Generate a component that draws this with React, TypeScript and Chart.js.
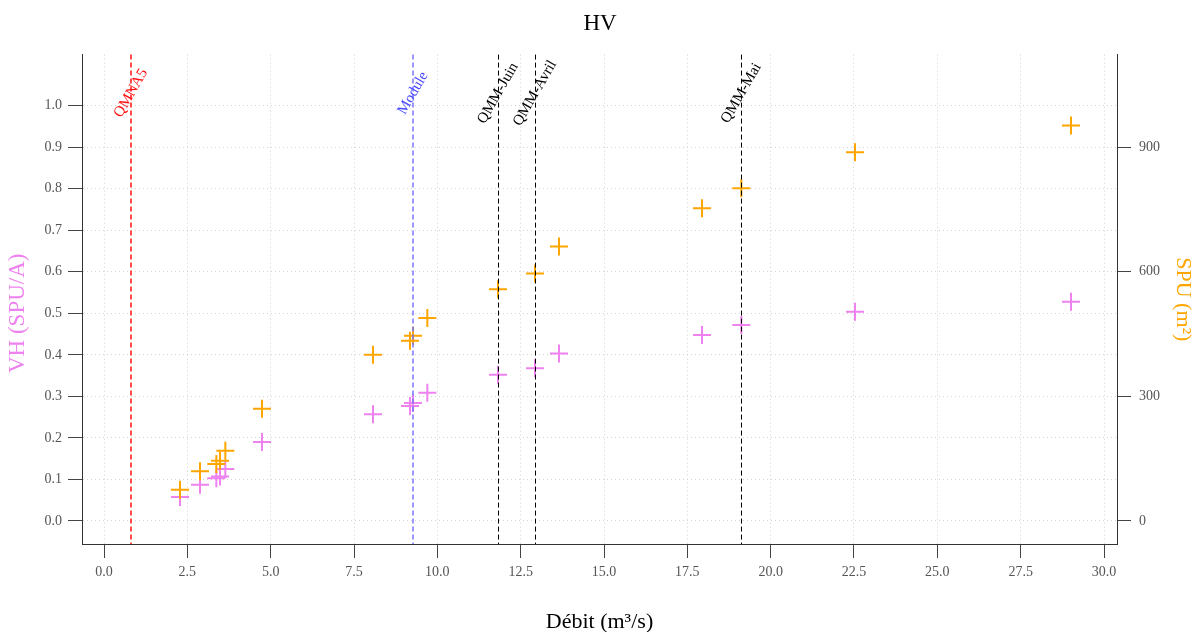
import React, { useEffect, useRef } from "react";
import { Chart, registerables } from "chart.js";

Chart.register(...registerables);

// Débit (m³/s) of each sample
const debit = [2.28, 2.88, 3.37, 3.48, 3.64, 4.74, 8.07, 9.18, 9.27, 9.7, 11.82, 12.93, 13.65, 17.94, 19.12, 22.53, 29.01];
// SPU (m²) – right axis
const spu = [75, 120, 137, 145, 169, 270, 400, 434, 446, 489, 558, 596, 661, 753, 801, 888, 952];
// VH (SPU/A) – left axis
const vh = [0.058, 0.087, 0.103, 0.107, 0.125, 0.19, 0.257, 0.277, 0.284, 0.309, 0.352, 0.368, 0.403, 0.448, 0.472, 0.504, 0.528];

const xTicks = [0, 2.5, 5, 7.5, 10, 12.5, 15, 17.5, 20, 22.5, 25, 27.5, 30];
const vhTicks = [0, 0.1, 0.2, 0.3, 0.4, 0.5, 0.6, 0.7, 0.8, 0.9, 1.0];
const spuTicks = [0, 300, 600, 900];

// Reference discharges
const refNames = ["QMNA5", "Module", "QMM-Juin", "QMM-Avril", "QMM-Mai"];
const refValues = [0.81, 9.27, 11.82, 12.93, 19.12];
const refLineColors = ["#FF0000", "#6E6EFF", "#000000", "#000000", "#000000"];
const refTextColors = ["#FF1010", "#4A4AFF", "#000000", "#000000", "#000000"];

const leftTitle = "VH (SPU/A)";

const FONT = "'Liberation Serif', 'Times New Roman', serif";

const refPlugin = {
  id: "refLines",
  afterDatasetsDraw(chart: any) {
    const { ctx, chartArea, scales } = chart;
    ctx.save();
    refValues.forEach((v, i) => {
      const colored = refLineColors[i] !== "#000000";
      const px = scales.x.getPixelForValue(v);
      const x = colored ? px : Math.round(px) + 0.5;
      ctx.beginPath();
      ctx.setLineDash([5, 3]);
      ctx.strokeStyle = refLineColors[i];
      ctx.lineWidth = colored ? 1.4 : 1;
      ctx.moveTo(x, chartArea.top);
      ctx.lineTo(x, chartArea.bottom);
      ctx.stroke();
      ctx.setLineDash([]);
      ctx.save();
      ctx.translate(px, scales.y.getPixelForValue(1.03));
      ctx.rotate(-Math.PI / 3);
      ctx.font = `15px ${FONT}`;
      ctx.fillStyle = refTextColors[i];
      ctx.textAlign = "center";
      ctx.textBaseline = "middle";
      ctx.fillText(refNames[i], 0, 0);
      ctx.restore();
    });
    // left axis title
    ctx.save();
    ctx.translate(18, (chartArea.top + chartArea.bottom) / 2 + 14);
    ctx.rotate(-Math.PI / 2);
    ctx.font = `23px ${FONT}`;
    ctx.fillStyle = "#EE82EE";
    ctx.textAlign = "center";
    ctx.textBaseline = "middle";
    ctx.fillText(leftTitle, 0, 0);
    ctx.restore();
    ctx.restore();
  },
};

export default function App() {
  const canvasRef = useRef<HTMLCanvasElement | null>(null);

  useEffect(() => {
    document.body.style.margin = "0";
    Chart.defaults.font.family = FONT;
    const canvas = canvasRef.current;
    if (!canvas) return;
    const gridColor = "#d2d2d2";
    const chart = new Chart(canvas, {
      type: "scatter",
      data: {
        datasets: [
          {
            label: "SPU",
            data: debit.map((d, i) => ({ x: d, y: spu[i] })),
            yAxisID: "y1",
            pointStyle: "cross",
            radius: 9,
            borderWidth: 2,
            borderColor: "#FFA500",
            backgroundColor: "#FFA500",
          },
          {
            label: "VH",
            data: debit.map((d, i) => ({ x: d, y: vh[i] })),
            yAxisID: "y",
            pointStyle: "cross",
            radius: 9,
            borderWidth: 2,
            borderColor: "#EE82EE",
            backgroundColor: "#EE82EE",
          },
        ],
      },
      options: {
        responsive: false,
        animation: false,
        devicePixelRatio: 1,
        layout: { padding: 0 },
        plugins: {
          legend: { display: false },
          tooltip: { enabled: false },
          title: {
            display: true,
            text: "HV",
            color: "#000",
            font: { size: 23, weight: "normal", lineHeight: 1.2 },
            padding: { top: 10, bottom: 17 },
          },
        },
        scales: {
          x: {
            type: "linear",
            position: "bottom",
            min: -0.66,
            max: 30.39,
            afterBuildTicks: (s: any) => {
              s.ticks = xTicks.map((v) => ({ value: v }));
            },
            afterFit: (s: any) => {
              s.height = 88;
            },
            ticks: {
              callback: (v: any) => Number(v).toFixed(1),
              color: "#555",
              font: { size: 14 },
              padding: 6,
              maxRotation: 0,
              autoSkip: false,
            },
            grid: {
              color: gridColor,
              lineWidth: 1,
              drawTicks: true,
              tickLength: 14,
              tickColor: "#444",
              tickWidth: 1,
            },
            border: { display: true, color: "#333", width: 1, dash: [1, 3] },
            title: {
              display: true,
              text: "Débit (m³/s)",
              color: "#000",
              font: { size: 22, lineHeight: 0.9 },
              padding: 0,
            },
          },
          y: {
            type: "linear",
            position: "left",
            min: -0.0554,
            max: 1.1229,
            afterBuildTicks: (s: any) => {
              s.ticks = vhTicks.map((v) => ({ value: v }));
            },
            afterFit: (s: any) => {
              s.width = 82;
            },
            ticks: {
              callback: (v: any) => Number(v).toFixed(1),
              color: "#555",
              font: { size: 14 },
              padding: 6,
            },
            grid: {
              color: gridColor,
              lineWidth: 1,
              drawTicks: true,
              tickLength: 14,
              tickColor: "#444",
              tickWidth: 1,
            },
            border: { display: true, color: "#333", width: 1, dash: [1, 3] },
            title: { display: false, text: leftTitle },
          },
          y1: {
            type: "linear",
            position: "right",
            min: -55.4,
            max: 1122.9,
            afterBuildTicks: (s: any) => {
              s.ticks = spuTicks.map((v) => ({ value: v }));
            },
            afterFit: (s: any) => {
              s.width = 83;
            },
            ticks: {
              callback: (v: any) => String(v),
              color: "#555",
              font: { size: 14 },
              padding: 8,
            },
            grid: {
              drawOnChartArea: false,
              drawTicks: true,
              tickLength: 14,
              tickColor: "#444",
              tickWidth: 1,
            },
            border: { display: true, color: "#333", width: 1 },
            title: {
              display: true,
              text: "SPU (m²)",
              color: "#FFA500",
              font: { size: 22, lineHeight: 1.2 },
              padding: { top: 4, bottom: 0 },
            },
          },
        },
      } as any,
      plugins: [refPlugin],
    });
    return () => chart.destroy();
  }, []);

  return (
    <div style={{ position: "absolute", left: 0, top: 0, width: 1200, height: 632 }}>
      <canvas ref={canvasRef} width={1200} height={632} />
    </div>
  );
}
